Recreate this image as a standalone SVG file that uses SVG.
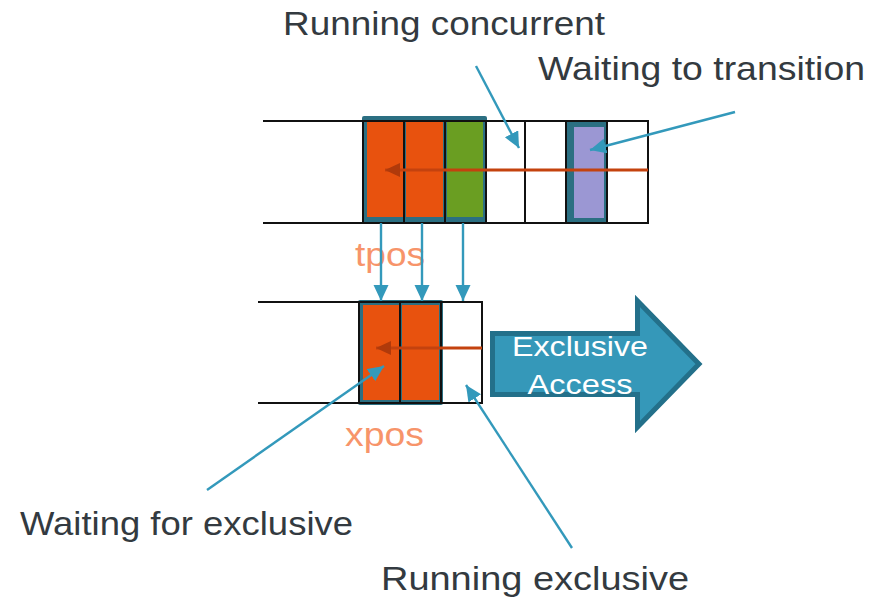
<svg xmlns="http://www.w3.org/2000/svg" width="871" height="604" viewBox="0 0 871 604">
  <style>
    .lbl { font-family: "Liberation Sans", Arial, sans-serif; font-size: 33px; fill: #333a40; }
    .pos { font-family: "Liberation Sans", Arial, sans-serif; font-size: 33px; fill: #f7946a; }
    .inner { font-family: "Liberation Sans", Arial, sans-serif; font-size: 28px; fill: #ffffff; text-anchor: middle; }
    .row { stroke: #111111; stroke-width: 2; fill: none; }
    .frame { fill: #2b6f82; }
    .run { fill: #e8520e; }
    .go { fill: #6a9e22; }
    .wait { fill: #9b97d3; }
    .lead { stroke: #3399bb; stroke-width: 2.4; fill: none; }
    .order { stroke: #c4420e; stroke-width: 3; fill: none; }
  </style>
  <defs>
    <marker id="tealHead" markerUnits="userSpaceOnUse" markerWidth="17" markerHeight="16" refX="16" refY="7.5" orient="auto">
      <path d="M0,0 L16,7.5 L0,15 z" fill="#3399bb"/>
    </marker>
    <marker id="redHead" markerUnits="userSpaceOnUse" markerWidth="16" markerHeight="15" refX="15" refY="7" orient="auto">
      <path d="M0,0 L15,7 L0,14 z" fill="#b03a0b"/>
    </marker>
  </defs>

  <rect width="871" height="604" fill="#ffffff"/>

  <!-- transition queue -->
  <g id="queue-top">
    <rect class="frame" x="362" y="116" width="125" height="107" rx="2"/>
    <rect class="run" x="367" y="122" width="37" height="95"/>
    <rect class="run" x="406" y="122" width="37" height="95"/>
    <rect class="go" x="447" y="122" width="36" height="95"/>
    <rect class="frame" x="566" y="121" width="41" height="102"/>
    <rect class="wait" x="574" y="127" width="30" height="91"/>
    <path class="row" d="M263,121 H648 V223 H263"/>
    <path class="row" d="M363,121 V223 M404,121 V223 M445,121 V223 M486,121 V223 M525,121 V223 M566,121 V223 M607,121 V223"/>
    <line class="order" x1="648" y1="170" x2="385" y2="170" marker-end="url(#redHead)"/>
  </g>

  <!-- exclusive queue -->
  <g id="queue-bottom">
    <rect class="frame" x="358" y="300" width="85" height="105" rx="2"/>
    <rect class="run" x="363" y="305" width="36" height="95"/>
    <rect class="run" x="402" y="305" width="37" height="95"/>
    <path class="row" d="M258,302 H482 V403 H258"/>
    <path class="row" d="M359,302 V403 M400,302 V403 M441,302 V403"/>
    <line class="order" x1="482" y1="348" x2="376" y2="348" marker-end="url(#redHead)"/>
  </g>

  <!-- exclusive access arrow -->
  <g id="exclusive-access">
    <polygon points="492.5,333.5 637.5,333.5 637.5,301 699,364 637.5,427 637.5,394.5 492.5,394.5" fill="#3598b9" stroke="#23708a" stroke-width="5" stroke-linejoin="miter"/>
    <text class="inner" x="580" y="356" textLength="136" lengthAdjust="spacingAndGlyphs">Exclusive</text>
    <text class="inner" x="580" y="394" textLength="105" lengthAdjust="spacingAndGlyphs">Access</text>
  </g>

  <g id="labels">
    <text class="lbl" x="283" y="35" textLength="322" lengthAdjust="spacingAndGlyphs">Running concurrent</text>
    <text class="lbl" x="538" y="80" textLength="327" lengthAdjust="spacingAndGlyphs">Waiting to transition</text>
    <text class="lbl" x="20" y="535" textLength="333" lengthAdjust="spacingAndGlyphs">Waiting for exclusive</text>
    <text class="lbl" x="381" y="590" textLength="308" lengthAdjust="spacingAndGlyphs">Running exclusive</text>
    <text class="pos" x="355" y="266" textLength="70" lengthAdjust="spacingAndGlyphs">tpos</text>
    <text class="pos" x="345" y="446" textLength="79" lengthAdjust="spacingAndGlyphs">xpos</text>
  </g>

  <g id="connectors">
    <line class="lead" x1="381" y1="223" x2="381" y2="301" marker-end="url(#tealHead)"/>
    <line class="lead" x1="422" y1="223" x2="422" y2="301" marker-end="url(#tealHead)"/>
    <line class="lead" x1="463" y1="223" x2="463" y2="301" marker-end="url(#tealHead)"/>
    <line class="lead" x1="476" y1="66" x2="519" y2="148" marker-end="url(#tealHead)"/>
    <line class="lead" x1="735" y1="112" x2="590" y2="150" marker-end="url(#tealHead)"/>
    <line class="lead" x1="207" y1="490" x2="384" y2="366" marker-end="url(#tealHead)"/>
    <line class="lead" x1="572" y1="548" x2="466" y2="385" marker-end="url(#tealHead)"/>
  </g>
</svg>
